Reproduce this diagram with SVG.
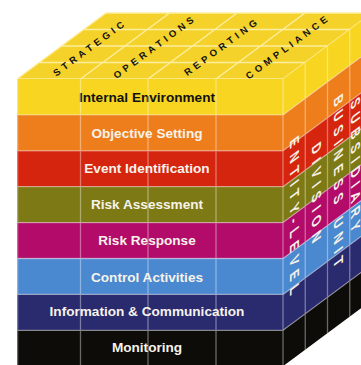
<svg xmlns="http://www.w3.org/2000/svg" width="361" height="365" viewBox="0 0 361 365">
  <style>
    .grid { stroke: #ffffff; stroke-opacity: 0.38; stroke-width: 1.3; fill: none; }
    .tgrid { stroke: #fdeea0; stroke-width: 1.4; fill: none; }
    .lbl { font-family: "Liberation Sans", Arial, sans-serif; font-weight: bold; font-size: 13.6px; text-anchor: middle; fill: #f7f3ea; }
    .top { font-family: "Liberation Sans", Arial, sans-serif; font-weight: bold; font-size: 9.6px; letter-spacing: 3.8px; text-anchor: middle; fill: #111; }
    .side { font-family: "Liberation Sans", Arial, sans-serif; font-weight: bold; font-size: 13px; letter-spacing: 5.8px; fill: #f7f3ea; }
    .c1 { fill: #f8d520; } .c2 { fill: #ee7e1b; } .c3 { fill: #d5250f; } .c4 { fill: #7d7914; }
    .c5 { fill: #b20b6a; } .c6 { fill: #4a88d0; } .c7 { fill: #2a2a6e; } .c8 { fill: #0d0c08; }
  </style>

  <!-- Top face -->
  <g id="top-face">
    <polygon points="17,79 283,79 372,13 106,13" fill="#f5d22a"/>
    <path class="tgrid" d="M17,79 H283 M39.25,62.5 H305.25 M61.5,46 H327.5 M83.75,29.5 H349.75 M106,13 H372
                           M17,79 L106,13 M80.5,79 L169.5,13 M148,79 L237,13 M216,79 L305,13 M283,79 L372,13"/>
    <text class="top" transform="translate(90,47.5) rotate(-36.5)" dy="0.35em">STRATEGIC</text>
    <text class="top" transform="translate(155,46.5) rotate(-36.5)" dy="0.35em">OPERATIONS</text>
    <text class="top" transform="translate(222,46.5) rotate(-36.5)" dy="0.35em">REPORTING</text>
    <text class="top" transform="translate(288,46.5) rotate(-36.5)" dy="0.35em">COMPLIANCE</text>
  </g>

  <!-- Right face -->
  <g id="right-face">
    <polygon class="c1" points="283,79 372,13 372,48.9 283,114.9"/>
    <polygon class="c2" points="283,114.9 372,48.9 372,84.8 283,150.8"/>
    <polygon class="c3" points="283,150.8 372,84.8 372,120.7 283,186.7"/>
    <polygon class="c4" points="283,186.7 372,120.7 372,156.6 283,222.6"/>
    <polygon class="c5" points="283,222.6 372,156.6 372,192.5 283,258.5"/>
    <polygon class="c6" points="283,258.5 372,192.5 372,228.4 283,294.4"/>
    <polygon class="c7" points="283,294.4 372,228.4 372,264.3 283,330.3"/>
    <polygon class="c8" points="283,330.3 372,264.3 372,300.2 283,366.2"/>
    <path class="grid" d="M283,114.9 L372,48.9 M283,150.8 L372,84.8 M283,186.7 L372,120.7 M283,222.6 L372,156.6
                          M283,258.5 L372,192.5 M283,294.4 L372,228.4 M283,330.3 L372,264.3
                          M305.25,62.5 V349.7 M327.5,46 V333.2 M349.75,29.5 V316.7"/>
    <text class="side" transform="matrix(0,1,-1,0.742,289.5,141)">ENTITY-LEVEL</text>
    <text class="side" transform="matrix(0,1,-1,0.742,311.5,147)">DIVISION</text>
    <text class="side" transform="matrix(0,1,-1,0.742,334,99)">BUSINESS UNIT</text>
    <text class="side" transform="matrix(0,1,-1,0.742,350.5,102)">SUBSIDIARY</text>
  </g>

  <!-- Front face rows -->
  <g id="internal-environment">
    <rect class="c1" x="17" y="79" width="266" height="35.9"/>
    <text class="lbl" x="147" y="101.8" style="fill:#111">Internal Environment</text>
  </g>
  <g id="objective-setting">
    <rect class="c2" x="17" y="114.9" width="266" height="35.9"/>
    <text class="lbl" x="147" y="137.7">Objective Setting</text>
  </g>
  <g id="event-identification">
    <rect class="c3" x="17" y="150.8" width="266" height="35.9"/>
    <text class="lbl" x="147" y="173.2">Event Identification</text>
  </g>
  <g id="risk-assessment">
    <rect class="c4" x="17" y="186.7" width="266" height="35.9"/>
    <text class="lbl" x="147" y="209">Risk Assessment</text>
  </g>
  <g id="risk-response">
    <rect class="c5" x="17" y="222.6" width="266" height="35.9"/>
    <text class="lbl" x="147" y="245">Risk Response</text>
  </g>
  <g id="control-activities">
    <rect class="c6" x="17" y="258.5" width="266" height="35.9"/>
    <text class="lbl" x="147" y="281.5">Control Activities</text>
  </g>
  <g id="information-communication">
    <rect class="c7" x="17" y="294.4" width="266" height="35.9"/>
    <text class="lbl" x="147" y="316">Information &amp; Communication</text>
  </g>
  <g id="monitoring">
    <rect class="c8" x="17" y="330.3" width="266" height="35.9"/>
    <text class="lbl" x="147" y="352">Monitoring</text>
  </g>

  <!-- Front face grid -->
  <g id="front-grid">
    <path class="grid" d="M17,114.9 H283 M17,150.8 H283 M17,186.7 H283 M17,222.6 H283 M17,258.5 H283 M17,294.4 H283 M17,330.3 H283
                          M17.6,79 V366 M80.5,79 V366 M148,79 V366 M216,79 V366 M283,79 V366"/>
  </g>
</svg>
